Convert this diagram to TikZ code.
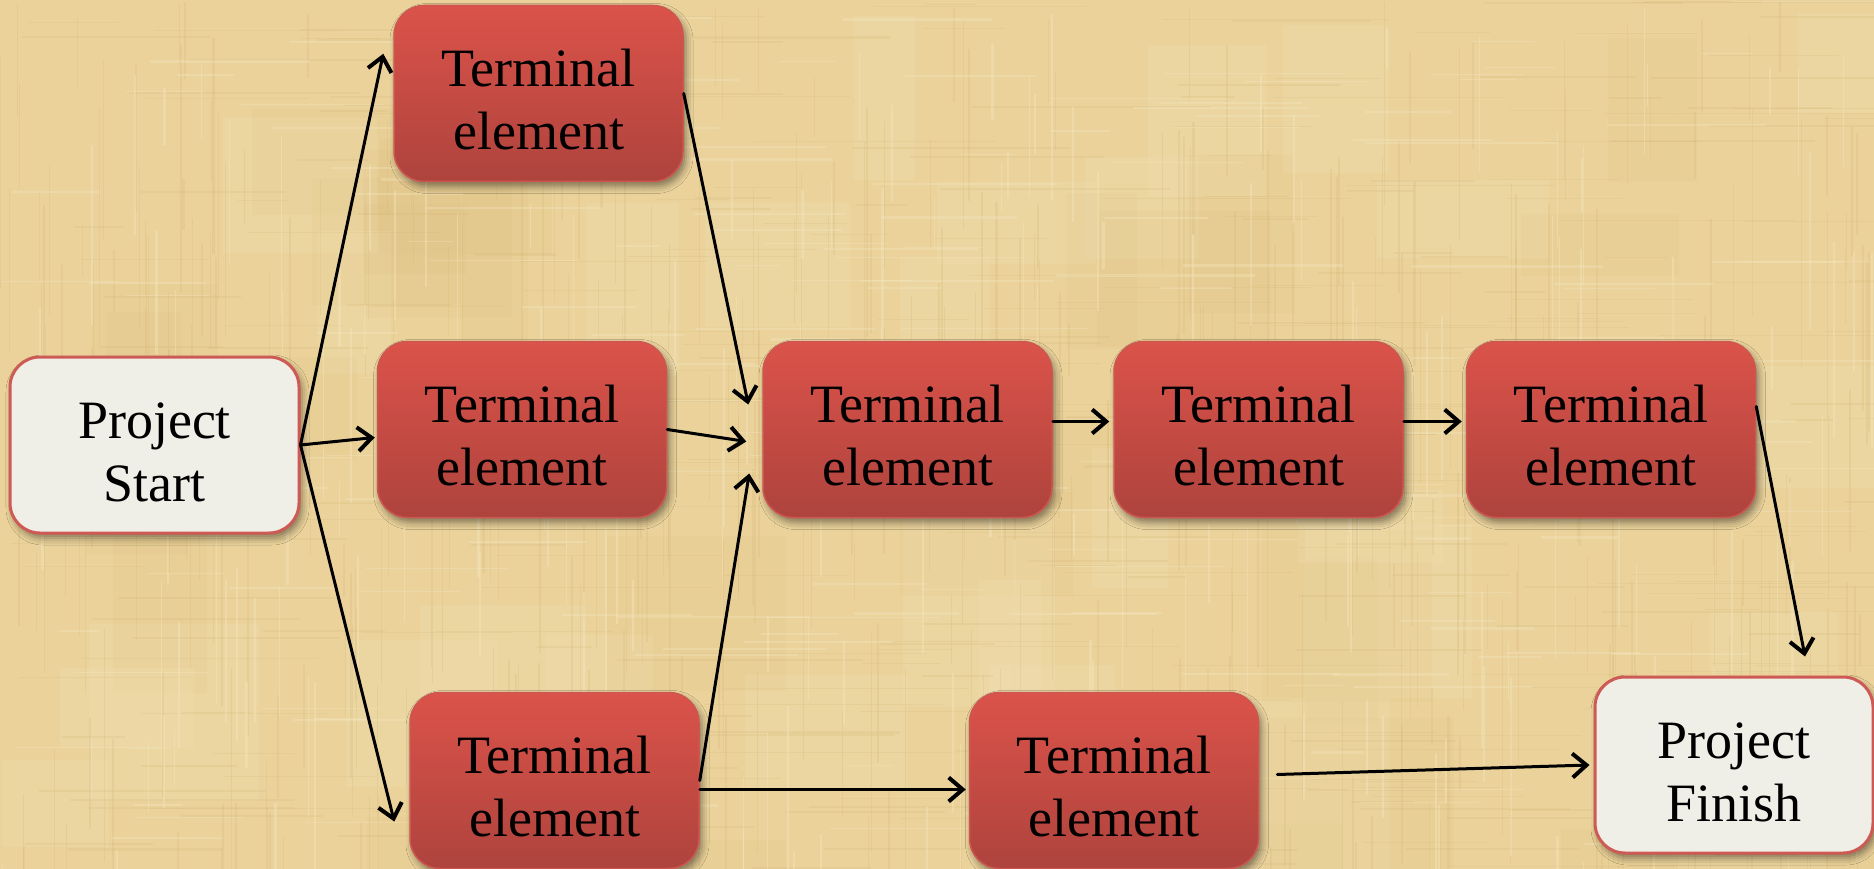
\documentclass[tikz,border=0pt]{standalone}
\usepackage{fontspec}
\setmainfont{Liberation Serif}
\usetikzlibrary{arrows.meta,calc,shadows.blur}

\definecolor{paper}{HTML}{EAD29A}
\definecolor{paperdark}{HTML}{C9A862}
\definecolor{paperlight}{HTML}{F7EAC6}
\definecolor{termtop}{HTML}{DB534A}
\definecolor{termbot}{HTML}{AE433D}
\definecolor{termedge}{HTML}{CC5750}
\definecolor{endfill}{HTML}{F0EFE7}
\definecolor{endedge}{HTML}{CD5A54}

% extra room above the first line so the two lines sit a little lower
\newcommand{\boxstrut}{\rule{0pt}{50pt}}

\begin{document}
\begin{tikzpicture}[x=1pt,y=-1pt,
  box/.style={rounded corners=30pt, minimum width=289pt, minimum height=176pt,
    inner sep=0pt, align=center, text=black,
    font=\fontsize{54}{63}\selectfont,
    blur shadow={shadow xshift=3pt, shadow yshift=-5pt,
      shadow blur radius=7pt, shadow opacity=45}},
  termbox/.style={box, top color=termtop, bottom color=termbot,
    draw=termedge, line width=1.5pt},
  endbox/.style={box, fill=endfill, draw=endedge, line width=3pt},
  link/.style={line width=3pt, line cap=round,
    -{Straight Barb[length=14pt,width=24pt,line width=4pt]}}]

% parchment background
\useasboundingbox (0,0) rectangle (1874,869);
\fill[paper] (0,0) rectangle (1874,869);
\begin{scope}
\clip (0,0) rectangle (1874,869);
\pgfmathsetseed{11}
\foreach \i in {1,...,60} {
  \pgfmathsetmacro{\px}{rnd*1874}
  \pgfmathsetmacro{\py}{rnd*869}
  \pgfmathsetmacro{\pw}{60+rnd*140}
  \pgfmathsetmacro{\ph}{60+rnd*140}
  \pgfmathsetmacro{\pick}{rnd}
  \ifdim\pick pt<0.5pt
    \fill[paperdark, opacity=0.06] (\px,\py) rectangle ++(\pw,\ph);
  \else
    \fill[paperlight, opacity=0.14] (\px,\py) rectangle ++(\pw,\ph);
  \fi
}
% fibres of the paper
\foreach \i in {1,...,420} {
  \pgfmathsetmacro{\px}{rnd*1874}
  \pgfmathsetmacro{\py}{rnd*869}
  \pgfmathsetmacro{\lenA}{50+rnd*200}
  \pgfmathsetmacro{\wA}{0.5+rnd*1.8}
  \draw[paperdark, line width=\wA pt, opacity=0.15] (\px,\py) -- ++(0,\lenA);
}
\foreach \i in {1,...,320} {
  \pgfmathsetmacro{\px}{rnd*1874}
  \pgfmathsetmacro{\py}{rnd*869}
  \pgfmathsetmacro{\lenA}{50+rnd*200}
  \pgfmathsetmacro{\wA}{0.5+rnd*1.8}
  \draw[paperdark, line width=\wA pt, opacity=0.13] (\px,\py) -- ++(\lenA,0);
}
\foreach \i in {1,...,200} {
  \pgfmathsetmacro{\px}{rnd*1874}
  \pgfmathsetmacro{\py}{rnd*869}
  \pgfmathsetmacro{\lenA}{40+rnd*160}
  \pgfmathsetmacro{\wA}{0.8+rnd*1.8}
  \draw[paperlight, line width=\wA pt, opacity=0.35] (\px,\py) -- ++(0,\lenA);
  \draw[paperlight, line width=\wA pt, opacity=0.30] (\py*2,\px/2.2) -- ++(\lenA,0);
}
\end{scope}

% nodes
\node[endbox]  (S)  at (154.5,445)  {\boxstrut Project\\Start};
\node[termbox] (T1) at (538.5,93.5) {\boxstrut Terminal\\element};
\node[termbox] (T2) at (522,429.5)  {\boxstrut Terminal\\element};
\node[termbox] (T3) at (907.5,429.5) {\boxstrut Terminal\\element};
\node[termbox] (T4) at (1258.5,429.5) {\boxstrut Terminal\\element};
\node[termbox] (T5) at (1611,429.5) {\boxstrut Terminal\\element};
\node[termbox] (T6) at (554.5,780.5) {\boxstrut Terminal\\element};
\node[termbox] (T7) at (1114,780.5) {\boxstrut Terminal\\element};
\node[endbox, minimum width=278pt] (F) at (1734,765) {\boxstrut Project\\Finish};

% connectors
\draw[link] (S.east) -- ($(T1.north west)+(-10,49)$);
\draw[link] (S.east) -- ($(T2.west)+(-2,8)$);
\draw[link] (S.east) -- ($(T6.west)+(-15,41)$);
\draw[link] (T1.east) -- ($(T3.west)+(-14,-25)$);
\draw[link] (T2.east) -- ($(T3.west)+(-16,12)$);
\draw[link] (T6.east) -- ($(T3.west)+(-13,44)$);
\draw[link] ($(T6.east)+(0,9)$) -- ($(T7.west)+(-3,9)$);
\draw[link] ($(T3.east)+(0,-8)$) -- ($(T4.west)+(-4,-8)$);
\draw[link] ($(T4.east)+(0,-8)$) -- ($(T5.west)+(-4,-8)$);
\draw[link] ($(T5.east)+(0,-23)$) -- ($(F.north)+(71,-19)$);
\draw[link] ($(T7.east)+(18,-6)$) -- ($(F.west)+(-4,0)$);
\end{tikzpicture}
\end{document}
